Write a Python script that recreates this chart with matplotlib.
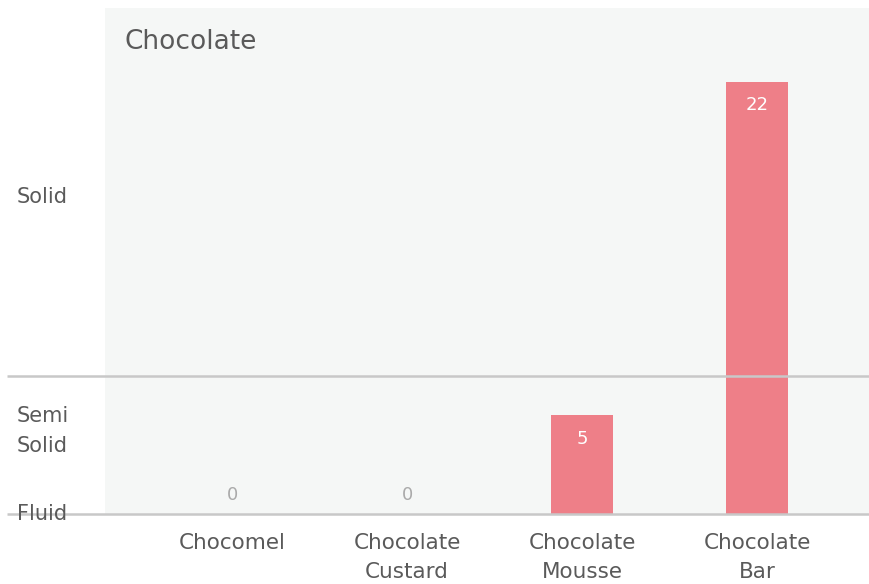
import numpy as np
import matplotlib
matplotlib.use("Agg")
import matplotlib.pyplot as plt
from matplotlib.transforms import blended_transform_factory

# data
title = "Chocolate"
categories = ["Chocomel", "Chocolate\nCustard", "Chocolate\nMousse", "Chocolate\nBar"]
values = [0, 0, 5, 22]
texture_labels = ["Fluid", "Semi\nSolid", "Solid"]
texture_ticks = [0, 4.2, 16.1]
band_edges = [0, 7]

TEXT = "#5a5a5a"
BAR = "#ee7f88"
BG = "#f5f7f6"
LINE = "#c8c8c8"

plt.rcParams['font.family'] = ['DejaVu Sans']

fig = plt.figure(figsize=(8.69, 5.84), dpi=100)
W, H = 869, 584
ax = fig.add_axes([105 / W, (H - 513.5) / H, 1 - 105 / W, (513.5 - 8) / H])
ax.set_facecolor(BG)
for s in ax.spines.values():
    s.set_visible(False)

x = np.arange(len(categories))
ax.bar(x, values, width=0.35, color=BAR, zorder=2)
ax.set_xlim(-0.726, 3.64)
ax.set_ylim(0, 25.75)
ax.set_xticks([])
ax.set_yticks([])

# band lines stretch past the panel to the left
tr = blended_transform_factory(fig.transFigure, ax.transData)
for b in band_edges:
    ax.plot([7 / W, 1.0], [b, b], transform=tr, color=LINE, lw=1.8,
            clip_on=False, zorder=3, solid_capstyle='butt')

# texture labels on the left
for lab, yv in zip(texture_labels, texture_ticks):
    fig.text(17 / W, yv, lab, transform=tr, ha='left', va='center',
             fontsize=15, color=TEXT, linespacing=1.6, zorder=4)

# value labels
for xi, v in zip(x, values):
    if v == 0:
        ax.annotate(str(v), (xi, v), xytext=(0, 13), textcoords='offset points',
                    ha='center', va='center', fontsize=13, color="#aaaaaa")
    else:
        ax.annotate(str(v), (xi, v), xytext=(0, -17), textcoords='offset points',
                    ha='center', va='center', fontsize=13, color="white", zorder=4)

# category labels under the axis
trx = blended_transform_factory(ax.transData, fig.transFigure)
for xi, lab in zip(x, categories):
    ax.text(xi, (H - 533) / H, lab, transform=trx, ha='center', va='top',
            fontsize=15.5, color=TEXT, linespacing=1.55)

ax.text(124 / W, (H - 42) / H, title, transform=fig.transFigure, ha='left',
        va='center', fontsize=19, color=TEXT)

fig.savefig("out.png", dpi=100)
